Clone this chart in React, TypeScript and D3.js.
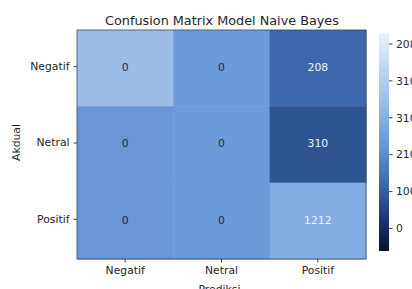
import { useEffect, useRef } from 'react';
import * as d3 from 'd3';

const labels = ['Negatif', 'Netral', 'Positif'];
const counts = [
  [0, 0, 208],
  [0, 0, 310],
  [0, 0, 1212],
];
// shade as it appears in the picture, per cell
const cellColors = [
  ['#9bbce6', '#6a9bdb', '#3d68ae'],
  ['#6896d7', '#6a9bdb', '#2e5592'],
  ['#6896d7', '#6a9bdb', '#82ade3'],
];
const barTicks = ['208', '310', '310', '210', '100', '0'];

const W = 412;
const H = 289;

const ConfusionMatrix = () => {
  const svgRef = useRef<SVGSVGElement>(null);

  useEffect(() => {
    if (!svgRef.current) return;
    const svg = d3.select(svgRef.current);
    svg.selectAll('*').remove();

    const font = 'DejaVu Sans, sans-serif';
    const margin = { top: 30, left: 77, right: 46, bottom: 30 };
    const innerW = 366 - margin.left;
    const innerH = 259 - margin.top;

    const x = d3.scaleBand().domain(labels).range([0, innerW]);
    const y = d3.scaleBand().domain(labels).range([0, innerH]);

    const g = svg.append('g').attr('transform', `translate(${margin.left},${margin.top})`);

    const cells = counts.flatMap((row, i) =>
      row.map((v, j) => ({ actual: labels[i], pred: labels[j], v, color: cellColors[i][j] }))
    );

    g.selectAll('rect.cell')
      .data(cells)
      .enter().append('rect')
      .attr('class', 'cell')
      .attr('x', d => x(d.pred) || 0)
      .attr('y', d => y(d.actual) || 0)
      .attr('width', x.bandwidth() + 0.5)
      .attr('height', y.bandwidth() + 0.5)
      .attr('fill', d => d.color);

    g.selectAll('text.val')
      .data(cells)
      .enter().append('text')
      .attr('class', 'val')
      .attr('x', d => (x(d.pred) || 0) + x.bandwidth() / 2)
      .attr('y', d => (y(d.actual) || 0) + y.bandwidth() / 2 - 1)
      .attr('dy', '0.35em')
      .attr('text-anchor', 'middle')
      .attr('font-family', font)
      .attr('font-size', 10.8)
      .attr('fill', d => (d.v > 0 ? '#eef3fb' : '#1c2a48'))
      .text(d => d.v);

    g.append('rect')
      .attr('width', innerW)
      .attr('height', innerH)
      .attr('fill', 'none')
      .attr('stroke', '#3a4458')
      .attr('stroke-width', 0.8);

    const xAxis = g.append('g')
      .attr('transform', `translate(0,${innerH})`)
      .call(d3.axisBottom(x).tickSize(3.5).tickPadding(4));
    const yAxis = g.append('g')
      .call(d3.axisLeft(y).tickSize(3.5).tickPadding(4));
    [xAxis, yAxis].forEach(a => {
      a.select('.domain').remove();
      a.selectAll('line').attr('stroke', '#444');
      a.selectAll('text')
        .attr('font-family', font)
        .attr('font-size', 10.8)
        .attr('fill', '#262626');
    });
    yAxis.selectAll('.tick').attr('transform', d => `translate(0,${(y(d as string) || 0) + y.bandwidth() / 2 - 1.5})`);

    svg.append('text')
      .attr('x', margin.left + innerW / 2 + 0.5)
      .attr('y', 25)
      .attr('text-anchor', 'middle')
      .attr('font-family', font)
      .attr('font-size', 12.8)
      .attr('fill', '#262626')
      .text('Confusion Matrix Model Naive Bayes');

    svg.append('text')
      .attr('x', margin.left + innerW / 2 - 2)
      .attr('y', 293)
      .attr('text-anchor', 'middle')
      .attr('font-family', font)
      .attr('font-size', 10.8)
      .attr('fill', '#262626')
      .text('Prediksi');

    svg.append('text')
      .attr('transform', `translate(20,${margin.top + innerH / 2 - 2}) rotate(-90)`)
      .attr('text-anchor', 'middle')
      .attr('font-family', font)
      .attr('font-size', 10.8)
      .attr('fill', '#262626')
      .text('Akdual');

    // colour bar
    const cb = { x: 379, y: 33, w: 10, h: 218 };
    const grad = svg.append('defs').append('linearGradient')
      .attr('id', 'cbar').attr('x1', 0).attr('y1', 0).attr('x2', 0).attr('y2', 1);
    [
      [0, '#eaf1fa'],
      [0.3, '#9cc0ea'],
      [0.5, '#6a9bdb'],
      [0.7, '#3a66a8'],
      [0.87, '#17316a'],
      [1, '#07122a'],
    ].forEach(([o, c]) => grad.append('stop').attr('offset', o as number).attr('stop-color', c as string));

    svg.append('rect')
      .attr('x', cb.x).attr('y', cb.y).attr('width', cb.w).attr('height', cb.h)
      .attr('fill', 'url(#cbar)');

    const cy = d3.scaleLinear().domain([0, barTicks.length - 1]).range([44, 228.5]);
    const tk = svg.append('g');
    tk.selectAll('line')
      .data(barTicks)
      .enter().append('line')
      .attr('x1', cb.x + cb.w).attr('x2', cb.x + cb.w + 3.5)
      .attr('y1', (_, i) => cy(i)).attr('y2', (_, i) => cy(i))
      .attr('stroke', '#444');
    tk.selectAll('text')
      .data(barTicks)
      .enter().append('text')
      .attr('x', cb.x + cb.w + 7)
      .attr('y', (_, i) => cy(i))
      .attr('dy', '0.35em')
      .attr('font-family', font)
      .attr('font-size', 10.8)
      .attr('fill', '#262626')
      .text(d => d);
  }, []);

  return (
    <svg
      ref={svgRef}
      width={W}
      height={H}
      style={{ position: 'absolute', left: 0, top: 0, background: '#fff' }}
    />
  );
};

export default function App() {
  return <ConfusionMatrix />;
}
